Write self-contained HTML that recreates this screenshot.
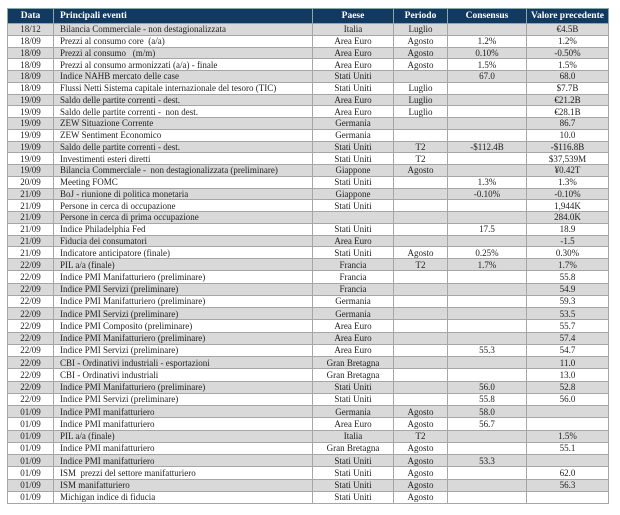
<!DOCTYPE html>
<html><head><meta charset="utf-8"><style>
body{margin:0;width:620px;height:515px;background:#fff;overflow:hidden}
table{position:absolute;left:7px;top:8px;border-collapse:collapse;table-layout:fixed;width:601px;font-family:"Liberation Serif",serif;font-size:9px;color:#222}
td,th{border:1px solid #a6a6a6;padding:0;text-align:center;white-space:nowrap;overflow:hidden;line-height:10px}
th{background:#123a60;color:#fff;font-weight:bold;height:14px;font-size:9.5px;border-color:#8aa}
th.l,td.l{text-align:left;padding-left:6px}
tr.a td{height:10.75px}
tr.b td{height:11.25px}
tr.g td{background:#d9d9d9}
</style></head><body>
<table>
<colgroup><col style="width:46px"><col style="width:259px"><col style="width:81px"><col style="width:54px"><col style="width:79px"><col style="width:82px"></colgroup>
<tr><th>Data</th><th class="l">Principali eventi</th><th>Paese</th><th>Periodo</th><th>Consensus</th><th>Valore precedente</th></tr>
<tr class="a g"><td>18/12</td><td class="l">Bilancia Commerciale - non destagionalizzata</td><td>Italia</td><td>Luglio</td><td></td><td>€4.5B</td></tr>
<tr class="a"><td>18/09</td><td class="l">Prezzi al consumo core &nbsp;(a/a)</td><td>Area Euro</td><td>Agosto</td><td>1.2%</td><td>1.2%</td></tr>
<tr class="a g"><td>18/09</td><td class="l">Prezzi al consumo &nbsp; (m/m)</td><td>Area Euro</td><td>Agosto</td><td>0.10%</td><td>-0.50%</td></tr>
<tr class="a"><td>18/09</td><td class="l">Prezzi al consumo armonizzati (a/a) - finale</td><td>Area Euro</td><td>Agosto</td><td>1.5%</td><td>1.5%</td></tr>
<tr class="a g"><td>18/09</td><td class="l">Indice NAHB mercato delle case</td><td>Stati Uniti</td><td></td><td>67.0</td><td>68.0</td></tr>
<tr class="a"><td>18/09</td><td class="l">Flussi Netti Sistema capitale internazionale del tesoro (TIC)</td><td>Stati Uniti</td><td>Luglio</td><td></td><td>$7.7B</td></tr>
<tr class="a g"><td>19/09</td><td class="l">Saldo delle partite correnti - dest.</td><td>Area Euro</td><td>Luglio</td><td></td><td>€21.2B</td></tr>
<tr class="a"><td>19/09</td><td class="l">Saldo delle partite correnti - &nbsp;non dest.</td><td>Area Euro</td><td>Luglio</td><td></td><td>€28.1B</td></tr>
<tr class="a g"><td>19/09</td><td class="l">ZEW Situazione Corrente</td><td>Germania</td><td></td><td></td><td>86.7</td></tr>
<tr class="a"><td>19/09</td><td class="l">ZEW Sentiment Economico</td><td>Germania</td><td></td><td></td><td>10.0</td></tr>
<tr class="a g"><td>19/09</td><td class="l">Saldo delle partite correnti - dest.</td><td>Stati Uniti</td><td>T2</td><td>-$112.4B</td><td>-$116.8B</td></tr>
<tr class="a"><td>19/09</td><td class="l">Investimenti esteri diretti</td><td>Stati Uniti</td><td>T2</td><td></td><td>$37,539M</td></tr>
<tr class="a g"><td>19/09</td><td class="l">Bilancia Commerciale - &nbsp;non destagionalizzata (preliminare)</td><td>Giappone</td><td>Agosto</td><td></td><td>¥0.42T</td></tr>
<tr class="a"><td>20/09</td><td class="l">Meeting FOMC</td><td>Stati Uniti</td><td></td><td>1.3%</td><td>1.3%</td></tr>
<tr class="a g"><td>21/09</td><td class="l">BoJ - riunione di politica monetaria</td><td>Giappone</td><td></td><td>-0.10%</td><td>-0.10%</td></tr>
<tr class="a"><td>21/09</td><td class="l">Persone in cerca di occupazione</td><td>Stati Uniti</td><td></td><td></td><td>1,944K</td></tr>
<tr class="a g"><td>21/09</td><td class="l">Persone in cerca di prima occupazione</td><td></td><td></td><td></td><td>284.0K</td></tr>
<tr class="a"><td>21/09</td><td class="l">Indice Philadelphia Fed</td><td>Stati Uniti</td><td></td><td>17.5</td><td>18.9</td></tr>
<tr class="a g"><td>21/09</td><td class="l">Fiducia dei consumatori</td><td>Area Euro</td><td></td><td></td><td>-1.5</td></tr>
<tr class="a"><td>21/09</td><td class="l">Indicatore anticipatore (finale)</td><td>Stati Uniti</td><td>Agosto</td><td>0.25%</td><td>0.30%</td></tr>
<tr class="b g"><td>22/09</td><td class="l">PIL a/a (finale)</td><td>Francia</td><td>T2</td><td>1.7%</td><td>1.7%</td></tr>
<tr class="b"><td>22/09</td><td class="l">Indice PMI Manifatturiero (preliminare)</td><td>Francia</td><td></td><td></td><td>55.8</td></tr>
<tr class="b g"><td>22/09</td><td class="l">Indice PMI Servizi (preliminare)</td><td>Francia</td><td></td><td></td><td>54.9</td></tr>
<tr class="b"><td>22/09</td><td class="l">Indice PMI Manifatturiero (preliminare)</td><td>Germania</td><td></td><td></td><td>59.3</td></tr>
<tr class="b g"><td>22/09</td><td class="l">Indice PMI Servizi (preliminare)</td><td>Germania</td><td></td><td></td><td>53.5</td></tr>
<tr class="b"><td>22/09</td><td class="l">Indice PMI Composito (preliminare)</td><td>Area Euro</td><td></td><td></td><td>55.7</td></tr>
<tr class="b g"><td>22/09</td><td class="l">Indice PMI Manifatturiero (preliminare)</td><td>Area Euro</td><td></td><td></td><td>57.4</td></tr>
<tr class="b"><td>22/09</td><td class="l">Indice PMI Servizi (preliminare)</td><td>Area Euro</td><td></td><td>55.3</td><td>54.7</td></tr>
<tr class="b g"><td>22/09</td><td class="l">CBI - Ordinativi industriali - esportazioni</td><td>Gran Bretagna</td><td></td><td></td><td>11.0</td></tr>
<tr class="b"><td>22/09</td><td class="l">CBI - Ordinativi industriali</td><td>Gran Bretagna</td><td></td><td></td><td>13.0</td></tr>
<tr class="b g"><td>22/09</td><td class="l">Indice PMI Manifatturiero (preliminare)</td><td>Stati Uniti</td><td></td><td>56.0</td><td>52.8</td></tr>
<tr class="b"><td>22/09</td><td class="l">Indice PMI Servizi (preliminare)</td><td>Stati Uniti</td><td></td><td>55.8</td><td>56.0</td></tr>
<tr class="b g"><td>01/09</td><td class="l">Indice PMI manifatturiero</td><td>Germania</td><td>Agosto</td><td>58.0</td><td></td></tr>
<tr class="b"><td>01/09</td><td class="l">Indice PMI manifatturiero</td><td>Area Euro</td><td>Agosto</td><td>56.7</td><td></td></tr>
<tr class="b g"><td>01/09</td><td class="l">PIL a/a (finale)</td><td>Italia</td><td>T2</td><td></td><td>1.5%</td></tr>
<tr class="b"><td>01/09</td><td class="l">Indice PMI manifatturiero</td><td>Gran Bretagna</td><td>Agosto</td><td></td><td>55.1</td></tr>
<tr class="b g"><td>01/09</td><td class="l">Indice PMI manifatturiero</td><td>Stati Uniti</td><td>Agosto</td><td>53.3</td><td></td></tr>
<tr class="b"><td>01/09</td><td class="l">ISM &nbsp;prezzi del settore manifatturiero</td><td>Stati Uniti</td><td>Agosto</td><td></td><td>62.0</td></tr>
<tr class="b g"><td>01/09</td><td class="l">ISM manifatturiero</td><td>Stati Uniti</td><td>Agosto</td><td></td><td>56.3</td></tr>
<tr class="b"><td>01/09</td><td class="l">Michigan indice di fiducia</td><td>Stati Uniti</td><td>Agosto</td><td></td><td></td></tr>
</table>
</body></html>
